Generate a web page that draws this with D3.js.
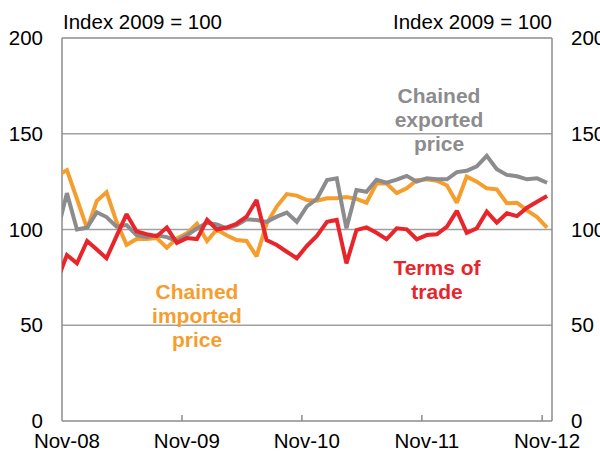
<!DOCTYPE html>
<html>
<head>
<meta charset="utf-8">
<script src="https://cdn.jsdelivr.net/npm/d3@7"></script>
<style>
  html, body { margin: 0; padding: 0; background: #fff; }
  svg { display: block; font-family: "Liberation Sans", Arial, sans-serif; }
</style>
</head>
<body>
<svg id="chart" width="600" height="458"></svg>
<script>
// Monthly observations, Oct-08 to Nov-12 (index 2009 = 100)
const months = [
  "2008-10","2008-11","2008-12","2009-01","2009-02","2009-03","2009-04","2009-05","2009-06",
  "2009-07","2009-08","2009-09","2009-10","2009-11","2009-12","2010-01","2010-02","2010-03",
  "2010-04","2010-05","2010-06","2010-07","2010-08","2010-09","2010-10","2010-11","2010-12",
  "2011-01","2011-02","2011-03","2011-04","2011-05","2011-06","2011-07","2011-08","2011-09",
  "2011-10","2011-11","2011-12","2012-01","2012-02","2012-03","2012-04","2012-05","2012-06",
  "2012-07","2012-08","2012-09","2012-10","2012-11"
];

const importedPrice = [
  128, 131, 116, 100.5, 115, 119.5, 104, 92, 95, 95,
  95.5, 90.5, 95.4, 98, 103, 94, 100, 97, 94.5, 94,
  86, 103, 112, 118.5, 117.7, 115.4, 115, 116.3, 116.3, 117,
  116, 114, 124, 124, 119, 121.5, 125.8, 126.2, 125.5, 123,
  114, 127.6, 125, 121.5, 121, 113.7, 114, 110, 106.5, 101
];

const exportedPrice = [
  98, 119, 100, 101, 109, 106.5, 101.5, 102.3, 97, 96,
  97, 96, 94, 97, 100.5, 103.5, 102.7, 100.6, 102.3, 105.3,
  105, 104, 106.7, 108.8, 104, 112, 116, 125.8, 126.7, 100.6,
  120.6, 119.7, 126, 124.5, 126, 128, 125, 126.7, 126.2, 126.2,
  130, 130.7, 133, 138.5, 131.5, 128.5, 127.8, 126.2, 126.7, 124.4
];

const termsOfTrade = [
  73, 86.7, 82.3, 94, 89.5, 85, 96.5, 108, 99, 97.5,
  96.5, 101, 93, 95.5, 95, 105, 100, 101, 103, 106.7,
  115.4, 94.5, 91.9, 88.4, 85, 91.4, 96.6, 104, 105, 82.3,
  99.7, 101.1, 98.3, 94.9, 100.6, 100.1, 94.9, 97.1, 97.5, 101.5,
  109.7, 98.3, 100.6, 109.3, 103.6, 108.5, 107, 111.4, 114.5, 117.5
];

const yTicks = [0, 50, 100, 150, 200];
const xTickYears = [2008, 2009, 2010, 2011, 2012];
const xTickLabels = ["Nov-08", "Nov-09", "Nov-10", "Nov-11", "Nov-12"];
const unitLabel = "Index 2009 = 100";

const seriesList = [
  { name: "imported", values: importedPrice, color: "#F59E2E",
    label: ["Chained", "imported", "price"], lx: 197, ly: 292 },
  { name: "exported", values: exportedPrice, color: "#8C8C8E",
    label: ["Chained", "exported", "price"], lx: 439, ly: 96 },
  { name: "tot", values: termsOfTrade, color: "#E8252B",
    label: ["Terms of", "trade"], lx: 437, ly: 268 }
];

const svg = d3.select("#chart");
const margin = { left: 62, right: 48, top: 38, bottom: 37 };
const W = 600, H = 458;
const plotW = W - margin.left - margin.right;
const plotH = H - margin.top - margin.bottom;

const parseMonth = d3.utcParse("%Y-%m");
const monthMid = s => {
  const a = parseMonth(s);
  const b = d3.utcMonth.offset(a, 1);
  return new Date((a.getTime() + b.getTime()) / 2);
};

const x = d3.scaleUtc()
  .domain([Date.UTC(2008, 10, 1), Date.UTC(2012, 11, 1)])
  .range([margin.left, margin.left + plotW]);
const y = d3.scaleLinear().domain([0, 200]).range([margin.top + plotH, margin.top]);

const gridColor = "#A0A0A0";
const axisColor = "#8C8C8C";
const fontSize = 20.5;

// horizontal grid lines
svg.append("g").selectAll("line")
  .data(yTicks.filter(v => v > 0 && v < 200))
  .join("line")
  .attr("x1", margin.left).attr("x2", margin.left + plotW)
  .attr("y1", d => y(d)).attr("y2", d => y(d))
  .attr("stroke", gridColor).attr("stroke-width", 1.5);

// frame: left, right, top and bottom axis lines
const frame = svg.append("g").attr("stroke", axisColor).attr("stroke-width", 1.5);
frame.append("line").attr("x1", margin.left).attr("x2", margin.left)
  .attr("y1", y(200)).attr("y2", y(0));
frame.append("line").attr("x1", margin.left + plotW).attr("x2", margin.left + plotW)
  .attr("y1", y(200)).attr("y2", y(0));
frame.append("line").attr("x1", margin.left).attr("x2", margin.left + plotW)
  .attr("y1", y(200)).attr("y2", y(200));
frame.append("line").attr("x1", margin.left).attr("x2", margin.left + plotW)
  .attr("y1", y(0)).attr("y2", y(0));

// x tick marks (pointing into the plot) at each November
frame.selectAll("line.xt")
  .data(xTickYears.slice(1))
  .join("line").attr("class", "xt")
  .attr("x1", d => x(Date.UTC(d, 10, 1))).attr("x2", d => x(Date.UTC(d, 10, 1)))
  .attr("y1", y(0)).attr("y2", y(0) - 6);

// y labels on both sides
const yl = svg.append("g").attr("font-size", fontSize).attr("fill", "#000");
yl.selectAll("text.l").data(yTicks).join("text").attr("class", "l")
  .attr("x", 43).attr("y", d => y(d)).attr("dy", "0.35em")
  .attr("text-anchor", "end").text(d => d);
yl.selectAll("text.r").data(yTicks).join("text").attr("class", "r")
  .attr("x", 571).attr("y", d => y(d)).attr("dy", "0.35em")
  .attr("text-anchor", "start").text(d => d);

// x labels centred on each November
svg.append("g").attr("font-size", fontSize).selectAll("text")
  .data(xTickYears)
  .join("text")
  .attr("x", (d, i) => x(monthMid(d + "-11")))
  .attr("y", 448)
  .attr("text-anchor", "middle")
  .text((d, i) => xTickLabels[i]);

// unit labels
svg.append("text").attr("x", margin.left + 1).attr("y", 29)
  .attr("font-size", fontSize).text(unitLabel);
svg.append("text").attr("x", margin.left + plotW).attr("y", 29)
  .attr("font-size", fontSize).attr("text-anchor", "end").text(unitLabel);

// series lines, clipped to the plot area
svg.append("clipPath").attr("id", "plot-clip")
  .append("rect").attr("x", margin.left).attr("y", margin.top)
  .attr("width", plotW).attr("height", plotH);

const line = d3.line()
  .x((d, i) => x(monthMid(months[i])))
  .y(d => y(d));

const lines = svg.append("g").attr("clip-path", "url(#plot-clip)");
seriesList.forEach(s => {
  lines.append("path")
    .attr("d", line(s.values))
    .attr("fill", "none")
    .attr("stroke", s.color)
    .attr("stroke-width", 4)
    .attr("stroke-linejoin", "miter")
    .attr("stroke-miterlimit", 2);
});

// series annotations
seriesList.forEach(s => {
  const t = svg.append("text")
    .attr("font-size", 21).attr("font-weight", "bold")
    .attr("fill", s.color).attr("text-anchor", "middle");
  s.label.forEach((ln, i) => {
    t.append("tspan").attr("x", s.lx).attr("y", s.ly + i * 24)
      .attr("dy", "0.35em").text(ln);
  });
});
</script>
</body>
</html>
